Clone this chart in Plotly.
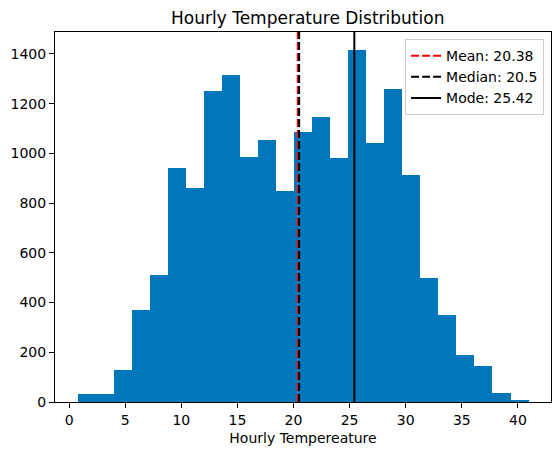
import plotly.graph_objects as go

# histogram of hourly temperatures, counts read per bin (25 bins)
bin_start = 0.75
bin_width = 1.608
counts = [33, 33, 130, 371, 512, 943, 861, 1251, 1315, 986, 1054, 849, 1086,
          1147, 983, 1416, 1042, 1259, 914, 497, 351, 188, 143, 35, 5]

stat_names = ["Mean", "Median", "Mode"]
stat_values = [20.38, 20.5, 25.42]
stat_colors = ["red", "black", "black"]
stat_dashes = ["8px,3px", "8px,3px", "solid"]

centers = [bin_start + bin_width * (i + 0.5) for i in range(len(counts))]

fig = go.Figure()
fig.add_trace(go.Bar(
    x=centers, y=counts, width=bin_width,
    marker=dict(color="#0077bb", line=dict(width=0)),
    showlegend=False,
))

# vertical lines for the stats, drawn on an overlay axis 0..1
for name, val, col, dash in zip(stat_names, stat_values, stat_colors, stat_dashes):
    fig.add_trace(go.Scatter(
        x=[val, val], y=[0, 1], yaxis="y2", mode="lines",
        line=dict(color=col, dash=dash, width=2),
        name=f"{name}: {val}",
    ))

# page body has an 8px margin, so the figure is a bit smaller than the window
font = "DejaVu Sans"
fig.update_layout(
    width=552, height=447,
    margin=dict(l=47, r=9, t=24, b=53, autoexpand=False),
    plot_bgcolor="white", paper_bgcolor="white",
    font=dict(family=font, size=14, color="black"),
    title=dict(text="Hourly Temperature Distribution", x=0.543, xanchor="center",
               y=0.978, yanchor="middle", font=dict(size=17)),
    bargap=0,
    xaxis=dict(
        range=[-1.26, 42.95], tickmode="array", tickvals=[0, 5, 10, 15, 20, 25, 30, 35, 40],
        showgrid=False, zeroline=False, showline=True, linecolor="black", linewidth=1,
        mirror=True, ticks="outside", ticklen=5, tickcolor="black", automargin=False,
        title=dict(text="Hourly Tempereature", font=dict(size=14), standoff=6),
    ),
    yaxis=dict(
        range=[0, 1488], tickmode="array", tickvals=[0, 200, 400, 600, 800, 1000, 1200, 1400],
        showgrid=False, zeroline=False, showline=True, linecolor="black", linewidth=1,
        mirror=True, ticks="outside", ticklen=5, tickcolor="black", automargin=False,
    ),
    yaxis2=dict(range=[0, 1], overlaying="y", visible=False),
    legend=dict(
        x=0.986, y=0.981, xanchor="right", yanchor="top",
        bgcolor="rgba(255,255,255,0.8)", bordercolor="#cccccc", borderwidth=1,
        font=dict(size=14), tracegroupgap=0, itemwidth=30,
    ),
)

fig.write_html("out.html")
